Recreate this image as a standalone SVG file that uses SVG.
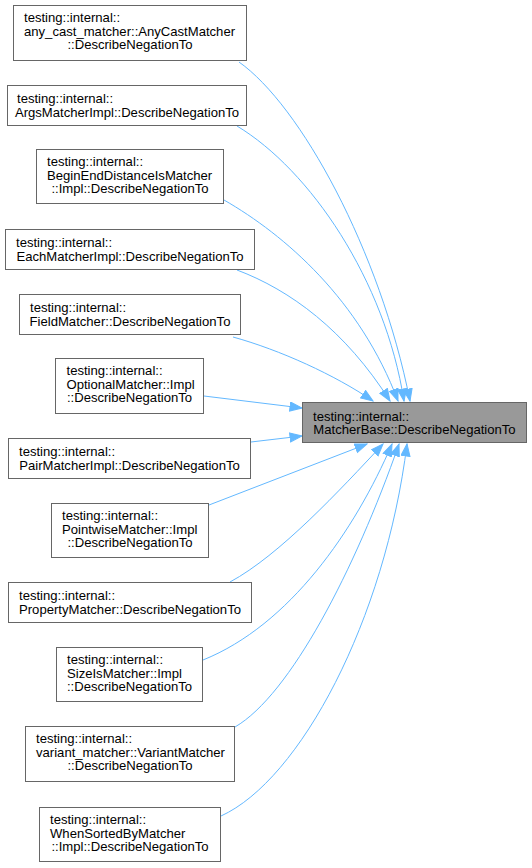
<svg xmlns="http://www.w3.org/2000/svg" width="532" height="868" viewBox="0 0 532 868">
<style>
  .box { fill: #ffffff; stroke: #666666; stroke-width: 1; }
  .target { fill: #999999; stroke: #666666; stroke-width: 1; }
  text { font-family: "Liberation Sans", Arial, Helvetica, sans-serif; font-size: 13.1px; fill: #000000; }
  .mid { text-anchor: middle; }
  .edge { fill: none; stroke: #63b8ff; stroke-width: 1; }
</style>
<defs>
  <marker id="arrow" markerUnits="userSpaceOnUse" markerWidth="14" markerHeight="12" refX="12.5" refY="5" orient="auto">
    <path d="M0.5,0.5 L12.5,5 L0.5,9.5 z" fill="#63b8ff" stroke="#63b8ff" stroke-width="1"/>
  </marker>
</defs>
<rect width="532" height="868" fill="#ffffff"/>
<g id="edges">
  <path class="edge" marker-end="url(#arrow)" d="M239,62 C300,105 380,250 410,401"/>
  <path class="edge" marker-end="url(#arrow)" d="M237,126 C310,170 385,280 404,401"/>
  <path class="edge" marker-end="url(#arrow)" d="M224,200 C285,235 360,300 398,401"/>
  <path class="edge" marker-end="url(#arrow)" d="M237,270 C290,290 345,330 390,401"/>
  <path class="edge" marker-end="url(#arrow)" d="M233,337 C280,350 335,375 373,401"/>
  <path class="edge" marker-end="url(#arrow)" d="M204,396 L302,408"/>
  <path class="edge" marker-end="url(#arrow)" d="M251,442 L302,436"/>
  <path class="edge" marker-end="url(#arrow)" d="M209,505 L367,444"/>
  <path class="edge" marker-end="url(#arrow)" d="M230,582 C280,555 340,490 383,444"/>
  <path class="edge" marker-end="url(#arrow)" d="M203,660 C290,625 355,530 392,444"/>
  <path class="edge" marker-end="url(#arrow)" d="M235,727 C290,695 355,570 399,444"/>
  <path class="edge" marker-end="url(#arrow)" d="M221,816 C300,780 385,620 407,444"/>
</g>
<g id="target">
  <rect class="target" x="302.5" y="402.5" width="224" height="40"/>
  <text x="313" y="420.5">testing::internal::</text>
  <text class="mid" x="414.5" y="434">MatcherBase::DescribeNegationTo</text>
</g>
<g id="n1">
  <rect class="box" x="13.5" y="5.5" width="233" height="55"/>
  <text x="24" y="22">testing::internal::</text>
  <text x="24" y="35.5">any_cast_matcher::AnyCastMatcher</text>
  <text class="mid" x="130" y="49">::DescribeNegationTo</text>
</g>
<g id="n2">
  <rect class="box" x="7.5" y="85.5" width="239" height="40"/>
  <text x="17" y="103">testing::internal::</text>
  <text class="mid" x="127" y="116.5">ArgsMatcherImpl::DescribeNegationTo</text>
</g>
<g id="n3">
  <rect class="box" x="36.5" y="149.5" width="187" height="54"/>
  <text x="47" y="166">testing::internal::</text>
  <text x="47" y="179.5">BeginEndDistanceIsMatcher</text>
  <text class="mid" x="130" y="193">::Impl::DescribeNegationTo</text>
</g>
<g id="n4">
  <rect class="box" x="5.5" y="229.5" width="249" height="40"/>
  <text x="16" y="247">testing::internal::</text>
  <text class="mid" x="130" y="260.5">EachMatcherImpl::DescribeNegationTo</text>
</g>
<g id="n5">
  <rect class="box" x="19.5" y="294.5" width="221" height="40"/>
  <text x="30" y="312">testing::internal::</text>
  <text class="mid" x="130" y="325.5">FieldMatcher::DescribeNegationTo</text>
</g>
<g id="n6">
  <rect class="box" x="55.5" y="358.5" width="148" height="55"/>
  <text x="66.5" y="375">testing::internal::</text>
  <text x="66.5" y="388.5">OptionalMatcher::Impl</text>
  <text class="mid" x="129.5" y="402">::DescribeNegationTo</text>
</g>
<g id="n7">
  <rect class="box" x="8.5" y="438.5" width="242" height="40"/>
  <text x="19" y="456">testing::internal::</text>
  <text class="mid" x="129.5" y="469.5">PairMatcherImpl::DescribeNegationTo</text>
</g>
<g id="n8">
  <rect class="box" x="51.5" y="503.5" width="157" height="54"/>
  <text x="62" y="520">testing::internal::</text>
  <text x="62" y="533.5">PointwiseMatcher::Impl</text>
  <text class="mid" x="130" y="547">::DescribeNegationTo</text>
</g>
<g id="n9">
  <rect class="box" x="8.5" y="582.5" width="243" height="40"/>
  <text x="19" y="600">testing::internal::</text>
  <text class="mid" x="130" y="613.5">PropertyMatcher::DescribeNegationTo</text>
</g>
<g id="n10">
  <rect class="box" x="56.5" y="647.5" width="146" height="54"/>
  <text x="67" y="664">testing::internal::</text>
  <text x="67" y="677.5">SizeIsMatcher::Impl</text>
  <text class="mid" x="129.5" y="691">::DescribeNegationTo</text>
</g>
<g id="n11">
  <rect class="box" x="25.5" y="726.5" width="209" height="55"/>
  <text x="36" y="743">testing::internal::</text>
  <text x="36" y="756.5">variant_matcher::VariantMatcher</text>
  <text class="mid" x="130" y="770">::DescribeNegationTo</text>
</g>
<g id="n12">
  <rect class="box" x="39.5" y="807.5" width="181" height="54"/>
  <text x="50" y="824">testing::internal::</text>
  <text x="50" y="837.5">WhenSortedByMatcher</text>
  <text class="mid" x="130" y="851">::Impl::DescribeNegationTo</text>
</g>
</svg>
